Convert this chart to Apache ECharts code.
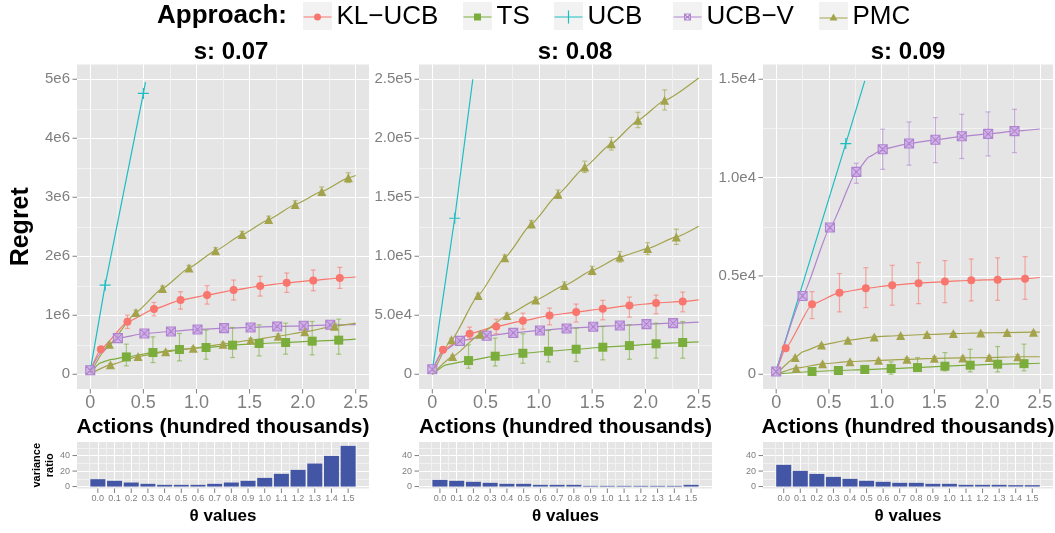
<!DOCTYPE html>
<html>
<head>
<meta charset="utf-8">
<script src="https://cdn.jsdelivr.net/npm/echarts@6/dist/echarts.min.js"></script>
<style>
  html, body { margin: 0; padding: 0; background: #ffffff; }
  #chart { width: 1055px; height: 533px; }
</style>
</head>
<body>
<div id="chart"></div>
<script>
// ---------- data ----------
const approaches = ['KL−UCB', 'TS', 'UCB', 'UCB−V', 'PMC'];
const panelTitles = ['s: 0.07', 's: 0.08', 's: 0.09'];

const actionTicks = [0, 0.5, 1, 1.5, 2, 2.5];
const actionTickLabels = ['0', '0.5', '1.0', '1.5', '2.0', '2.5'];

const regretTicks07 = [0, 1e6, 2e6, 3e6, 4e6, 5e6];
const regretTickLabels07 = ['0', '1e6', '2e6', '3e6', '4e6', '5e6'];
const regretTicks08 = [0, 5e4, 1e5, 1.5e5, 2e5, 2.5e5];
const regretTickLabels08 = ['0', '5.0e4', '1.0e5', '1.5e5', '2.0e5', '2.5e5'];
const regretTicks09 = [0, 5e3, 1e4, 1.5e4];
const regretTickLabels09 = ['0', '0.5e4', '1.0e4', '1.5e4'];

const thetaValues = [0.0, 0.1, 0.2, 0.3, 0.4, 0.5, 0.6, 0.7, 0.8, 0.9, 1.0, 1.1, 1.2, 1.3, 1.4, 1.5];
const thetaTickLabels = ['0.0', '0.1', '0.2', '0.3', '0.4', '0.5', '0.6', '0.7', '0.8', '0.9', '1.0', '1.1', '1.2', '1.3', '1.4', '1.5'];
const ratioTicks = [0, 20, 40];
const ratioTickLabels = ['0', '20', '40'];

// variance ratio per θ value
const varianceRatio07 = [9.5, 7.4, 5.2, 3.5, 2.2, 2.2, 2.2, 3.5, 5.2, 7.4, 11.2, 16.4, 21.5, 29.7, 39.6, 52.5];
const varianceRatio08 = [8.6, 7.4, 6.1, 4.8, 3.5, 3.5, 2.2, 2.2, 2.2, 0.9, 0.9, 0.9, 0.9, 0.9, 0.9, 2.2];
const varianceRatio09 = [28.0, 20.2, 16.3, 12.5, 9.9, 7.4, 6.1, 4.8, 4.8, 3.5, 3.5, 2.2, 2.2, 2.2, 1.8, 1.8];

// regret curves: [actions (hundred thousands), regret]
// marked points: [actions, regret, lower bound, upper bound]

// s = 0.07
const klucbCurve07 = [[0,60000],[0.10,425000],[0.35,889000],[0.60,1104000],[0.85,1257000],[1.10,1342000],[1.35,1427000],[1.60,1495000],[1.85,1551000],[2.10,1591000],[2.35,1631000],[2.50,1648000]];
const klucbMarks07 = [[0.10,425000,400000,450000],[0.35,889000,776000,1002000],[0.60,1104000,991000,1217000],[0.85,1257000,1104000,1399000],[1.10,1342000,1189000,1501000],[1.35,1427000,1257000,1597000],[1.60,1495000,1325000,1659000],[1.85,1551000,1387000,1716000],[2.10,1591000,1416000,1767000],[2.35,1631000,1455000,1812000]];
const tsCurve07 = [[0,10000],[0.09,190000],[0.18,245000],[0.34,294000],[0.59,368000],[0.84,419000],[1.09,453000],[1.34,493000],[1.59,521000],[1.84,538000],[2.09,561000],[2.34,578000],[2.50,595000]];
const tsMarks07 = [[0.34,294000,142000,510000],[0.59,368000,198000,634000],[0.84,419000,227000,691000],[1.09,453000,255000,747000],[1.34,493000,283000,793000],[1.59,521000,311000,838000],[1.84,538000,340000,866000],[2.09,561000,328000,895000],[2.34,578000,340000,934000]];
const ucbCurve07 = [[0,60000],[0.14,1510000],[0.50,4760000],[0.52,4950000]];
const ucbMarks07 = [[0.14,1510000,1510000,1510000],[0.50,4760000,4760000,4760000]];
const ucbvCurve07 = [[0,68000],[0.10,360000],[0.26,612000],[0.51,691000],[0.76,725000],[1.01,759000],[1.26,781000],[1.51,793000],[1.76,810000],[2.01,821000],[2.26,838000],[2.50,840000]];
const ucbvMarks07 = [[0.00,68000,50000,90000],[0.26,612000,580000,645000],[0.51,691000,650000,735000],[0.76,725000,680000,775000],[1.01,759000,705000,815000],[1.26,781000,725000,840000],[1.51,793000,735000,855000],[1.76,810000,745000,880000],[2.01,821000,760000,885000],[2.26,838000,775000,895000]];
const pmcCurve07a = [[0,20000],[0.18,510000],[0.43,1048000],[0.68,1455000],[0.93,1801000],[1.18,2095000],[1.43,2367000],[1.68,2622000],[1.93,2877000],[2.18,3098000],[2.43,3329000],[2.50,3369000]];
const pmcMarks07a = [[0.18,510000,480000,540000],[0.43,1048000,1010000,1085000],[0.68,1455000,1415000,1495000],[0.93,1801000,1760000,1845000],[1.18,2095000,2050000,2145000],[1.43,2367000,2315000,2420000],[1.68,2622000,2565000,2680000],[1.93,2877000,2815000,2940000],[2.18,3098000,3030000,3175000],[2.43,3329000,3250000,3415000]];
const pmcCurve07b = [[0,10000],[0.19,159000],[0.45,300000],[0.71,380000],[0.97,442000],[1.25,510000],[1.51,578000],[1.77,646000],[2.02,719000],[2.30,815000],[2.50,866000]];
const pmcMarks07b = [[0.19,159000,140000,180000],[0.45,300000,280000,320000],[0.71,380000,355000,405000],[0.97,442000,415000,470000],[1.25,510000,480000,540000],[1.51,578000,545000,610000],[1.77,646000,610000,685000],[2.02,719000,675000,765000],[2.30,815000,765000,865000]];

// s = 0.08
const klucbCurve08 = [[0,3000],[0.10,20700],[0.35,34300],[0.60,40500],[0.85,45300],[1.10,49800],[1.35,52700],[1.60,55500],[1.85,58300],[2.10,60300],[2.35,61700],[2.50,63100]];
const klucbMarks08 = [[0.10,20700,19200,22200],[0.35,34300,29200,39900],[0.60,40500,34300,46700],[0.85,45300,38200,51800],[1.10,49800,41900,56100],[1.35,52700,44200,59500],[1.60,55500,46100,62600],[1.85,58300,48400,65400],[2.10,60300,51200,67100],[2.35,61700,52900,69600]];
const tsCurve08 = [[0,0],[0.13,8000],[0.34,11600],[0.59,15300],[0.85,17800],[1.09,19500],[1.35,21200],[1.60,22900],[1.85,24300],[2.10,25800],[2.35,26900],[2.50,27500]];
const tsMarks08 = [[0.34,11600,5100,24900],[0.59,15300,7000,30600],[0.85,17800,9300,34300],[1.09,19500,10500,37100],[1.35,21200,10800,39100],[1.60,22900,12200,40500],[1.85,24300,12700,41900],[2.10,25800,13600,43300],[2.35,26900,13600,44700]];
const ucbCurve08 = [[0,3000],[0.21,132200],[0.38,250000]];
const ucbMarks08 = [[0.21,132200,132200,132200]];
const ucbvCurve08 = [[0,4200],[0.10,19000],[0.26,28300],[0.51,32600],[0.76,35100],[1.01,37100],[1.26,38800],[1.51,40200],[1.76,41300],[2.01,42500],[2.26,43300],[2.50,44200]];
const ucbvMarks08 = [[0.00,4200,3000,5400],[0.26,28300,26800,29800],[0.51,32600,30800,34400],[0.76,35100,33000,37200],[1.01,37100,34800,39400],[1.26,38800,36300,41300],[1.51,40200,37500,42900],[1.76,41300,38400,44200],[2.01,42500,39500,45500],[2.26,43300,40200,46400]];
const pmcCurve08a = [[0,0],[0.18,29200],[0.43,66800],[0.68,98800],[0.93,127400],[1.18,152600],[1.43,175600],[1.68,195400],[1.93,215200],[2.18,232200],[2.50,251000]];
const pmcMarks08a = [[0.18,29200,28000,30400],[0.43,66800,65000,68600],[0.68,98800,96500,101100],[0.93,127400,124500,130300],[1.18,152600,149000,156200],[1.43,175600,171000,180600],[1.68,195400,190000,200700],[1.93,215200,209000,222000],[2.18,232200,224000,241000]];
const pmcCurve08b = [[0,0],[0.19,15000],[0.45,34000],[0.70,49800],[0.97,62900],[1.24,75300],[1.50,88000],[1.76,99400],[2.02,106500],[2.29,116400],[2.50,125400]];
const pmcMarks08b = [[0.19,15000,14000,16000],[0.45,34000,32500,35500],[0.70,49800,47800,51800],[0.97,62900,60500,65300],[1.24,75300,72300,78300],[1.50,88000,84500,91500],[1.76,99400,95000,104000],[2.02,106500,101500,111500],[2.29,116400,110000,123000]];

// s = 0.09
const klucbCurve09 = [[0,100],[0.09,1320],[0.34,3560],[0.60,4150],[0.85,4370],[1.10,4530],[1.35,4630],[1.60,4710],[1.85,4780],[2.10,4810],[2.36,4860],[2.50,4920]];
const klucbMarks09 = [[0.09,1320,1270,1370],[0.34,3560,2830,4200],[0.60,4150,3170,5120],[0.85,4370,3390,5420],[1.10,4530,3510,5540],[1.35,4630,3590,5680],[1.60,4710,3640,5780],[1.85,4780,3730,5860],[2.10,4810,3760,5920],[2.36,4860,3810,5980]];
const tsCurve09 = [[0,0],[0.34,140],[0.59,190],[0.84,240],[1.09,290],[1.34,340],[1.60,410],[1.84,460],[2.10,510],[2.35,540],[2.50,560]];
const tsMarks09 = [[0.34,140,90,190],[0.59,190,80,300],[0.84,240,50,450],[1.09,290,0,630],[1.34,340,170,850],[1.60,410,170,1100],[1.84,460,120,1270],[2.10,510,120,1410],[2.35,540,170,1530]];
const ucbCurve09 = [[0,200],[0.66,11730],[0.84,14920]];
const ucbMarks09 = [[0.66,11730,11730,11730]];
const ucbvCurve09 = [[0,140],[0.25,3980],[0.51,7460],[0.76,10290],[0.88,11050],[1.01,11440],[1.26,11730],[1.51,11920],[1.76,12100],[2.01,12220],[2.26,12360],[2.50,12470]];
const ucbvMarks09 = [[0.00,140,90,190],[0.25,3980,3880,4080],[0.51,7460,7330,7590],[0.76,10290,9710,10730],[1.01,11440,10420,12460],[1.26,11730,10630,12830],[1.51,11920,10760,13050],[1.76,12100,10970,13220],[2.01,12220,11100,13340],[2.26,12360,11270,13470]];
const pmcCurve09a = [[0,0],[0.18,850],[0.25,1140],[0.43,1490],[0.68,1730],[0.93,1900],[1.18,1970],[1.43,2020],[1.68,2070],[1.94,2100],[2.19,2120],[2.44,2140],[2.50,2140]];
const pmcMarks09a = [[0.18,850,800,900],[0.43,1490,1440,1540],[0.68,1730,1680,1780],[0.93,1900,1850,1950],[1.18,1970,1920,2020],[1.43,2020,1970,2070],[1.68,2070,2020,2120],[1.94,2100,2050,2150],[2.19,2120,2070,2170],[2.44,2140,2090,2190]];
const pmcCurve09b = [[0,0],[0.19,310],[0.44,530],[0.70,640],[0.97,710],[1.24,760],[1.50,810],[1.77,830],[2.02,850],[2.29,890],[2.50,890]];
const pmcMarks09b = [[0.19,310,270,350],[0.44,530,480,580],[0.70,640,580,700],[0.97,710,640,780],[1.24,760,680,840],[1.50,810,720,900],[1.77,830,740,920],[2.02,850,760,940],[2.29,890,790,990]];

// ---------- styling ----------
const FONT = '"Liberation Sans", Arial, Helvetica, sans-serif';
const TICK_GREY = '#7F7F7F';
const PANEL_BG = '#E5E5E5';
const MINOR_GRID = '#F2F2F2';

const look = {
  'KL−UCB': { color: '#F8766D', symbol: 'circle', size: 8, fill: '#F8766D', border: 0, smooth: 0.15 },
  'TS':     { color: '#7BAD3C', symbol: 'rect', size: 9, fill: '#7BAD3C', border: 0, smooth: 0.15 },
  'UCB':    { color: '#1CBEC3', symbol: 'path://M0,5H10M5,0V10', size: 11, fill: 'rgba(0,0,0,0)', border: 1.2, smooth: false },
  'UCB−V':  { color: '#AF83CD', symbol: 'path://M0,0H10V10H0ZM0,0L10,10M10,0L0,10', size: 9, fill: 'rgba(205,170,235,0.75)', border: 1.1, smooth: 0.15 },
  'PMC':    { color: '#A2A34A', symbol: 'triangle', size: 9, fill: '#A2A34A', border: 0, smooth: 0.15 }
};

const LINE = 'M0,9.4H28V10.6H0Z';
const legendIcons = {
  'KL−UCB': 'path://' + LINE + 'M10.5,10A3.5,3.5 0 1 1 17.5,10A3.5,3.5 0 1 1 10.5,10Z',
  'TS':     'path://' + LINE + 'M10.5,6.5H17.5V13.5H10.5Z',
  'UCB':    'path://' + LINE + 'M13.4,3.5H14.6V16.5H13.4Z',
  'UCB−V':  'path://' + LINE + 'M10.5,6.5H17.5V13.5H10.5ZM11.5,7.5V12.5H16.5V7.5ZM11,7.7L11.7,7L17,12.3L16.3,13ZM16.3,7L17,7.7L11.7,13L11,12.3Z',
  'PMC':    'path://' + LINE + 'M14,5.5L18,12.5H10Z'
};

// panel geometry
const panelLeft = [77, 419, 763];
const panelWidth = [292, 293, 290];
const MAIN_TOP = 64.5, MAIN_H = 324.5;
const HIST_TOP = 442, HIST_H = 46.5;
const legendKeyLeft = [303, 463, 554, 673, 819];

// ---------- helpers ----------
function near(a, b) { return Math.abs(a - b) < 1e-7 * Math.max(1, Math.abs(b)); }

// one colour per split line: white on major breaks, light on minor breaks
function gridColors(min, max, step, majors) {
  const half = (majors[1] - majors[0]) / 2;
  const minors = [majors[0] - half].concat(majors.map(v => v + half));
  const out = [];
  const n = Math.round((max - min) / step);
  for (let i = 0; i <= n; i++) {
    const v = min + i * step;
    if (majors.some(m => near(v, m))) out.push('#FFFFFF');
    else if (minors.some(m => near(v, m))) out.push(MINOR_GRID);
    else out.push('rgba(0,0,0,0)');
  }
  return out;
}

function labelFor(ticks, labels) {
  return function (v) {
    const i = ticks.findIndex(t => near(v, t));
    return i < 0 ? '' : labels[i];
  };
}

function valueAxis(gridIndex, min, max, step, ticks, labels, fontSize, margin, extra) {
  return Object.assign({
    type: 'value', gridIndex, min, max, interval: step,
    axisLine: { show: false },
    axisTick: { show: false },
    axisLabel: {
      formatter: labelFor(ticks, labels), color: TICK_GREY, fontSize, fontFamily: FONT,
      margin, hideOverlap: false, showMinLabel: true, showMaxLabel: true
    },
    splitLine: { show: true, showMinLine: true, showMaxLine: true,
      lineStyle: { color: gridColors(min, max, step, ticks), width: 1 } },
    minorTick: { show: false }, minorSplitLine: { show: false }
  }, extra || {});
}

// short outward tick marks at the labelled breaks
function tickSeries(idx, xTicks, yTicks) {
  return {
    type: 'custom', xAxisIndex: idx, yAxisIndex: idx, silent: true, clip: false, z: 1,
    encode: { x: 0, y: 1 },
    data: xTicks.map(v => [v, 0, 0]).concat(yTicks.map(v => [0, v, 1])),
    renderItem(params, api) {
      const cs = params.coordSys;
      const p = api.coord([api.value(0), api.value(1)]);
      const style = { stroke: TICK_GREY, lineWidth: 1 };
      if (api.value(2) === 1) {
        return { type: 'line', shape: { x1: cs.x - 4.5, y1: p[1], x2: cs.x, y2: p[1] }, style };
      }
      const b = cs.y + cs.height;
      return { type: 'line', shape: { x1: p[0], y1: b, x2: p[0], y2: b + 4.5 }, style };
    }
  };
}

function errorBarSeries(idx, marks, color) {
  return {
    type: 'custom', xAxisIndex: idx, yAxisIndex: idx, silent: true, z: 3,
    encode: { x: 0, y: 1 },
    data: marks.filter(m => m[3] > m[2]),
    renderItem(params, api) {
      const x = api.value(0);
      const lo = api.coord([x, api.value(2)]);
      const hi = api.coord([x, api.value(3)]);
      const w = 2.5;
      const style = { stroke: color, lineWidth: 1.2, opacity: 0.6 };
      return { type: 'group', children: [
        { type: 'line', shape: { x1: hi[0], y1: hi[1], x2: lo[0], y2: lo[1] }, style },
        { type: 'line', shape: { x1: hi[0] - w, y1: hi[1], x2: hi[0] + w, y2: hi[1] }, style },
        { type: 'line', shape: { x1: lo[0] - w, y1: lo[1], x2: lo[0] + w, y2: lo[1] }, style }
      ] };
    }
  };
}

// ---------- panels ----------
const panels = [
  {
    curves: { 'KL−UCB': [klucbCurve07], 'TS': [tsCurve07], 'UCB': [ucbCurve07], 'UCB−V': [ucbvCurve07], 'PMC': [pmcCurve07a, pmcCurve07b] },
    marks:  { 'KL−UCB': [klucbMarks07], 'TS': [tsMarks07], 'UCB': [ucbMarks07], 'UCB−V': [ucbvMarks07], 'PMC': [pmcMarks07a, pmcMarks07b] },
    ratio: varianceRatio07, yTicks: regretTicks07, yLabels: regretTickLabels07,
    yMin: -250000, yMax: 5250000, yStep: 250000
  },
  {
    curves: { 'KL−UCB': [klucbCurve08], 'TS': [tsCurve08], 'UCB': [ucbCurve08], 'UCB−V': [ucbvCurve08], 'PMC': [pmcCurve08a, pmcCurve08b] },
    marks:  { 'KL−UCB': [klucbMarks08], 'TS': [tsMarks08], 'UCB': [ucbMarks08], 'UCB−V': [ucbvMarks08], 'PMC': [pmcMarks08a, pmcMarks08b] },
    ratio: varianceRatio08, yTicks: regretTicks08, yLabels: regretTickLabels08,
    yMin: -12500, yMax: 262500, yStep: 12500
  },
  {
    curves: { 'KL−UCB': [klucbCurve09], 'TS': [tsCurve09], 'UCB': [ucbCurve09], 'UCB−V': [ucbvCurve09], 'PMC': [pmcCurve09a, pmcCurve09b] },
    marks:  { 'KL−UCB': [klucbMarks09], 'TS': [tsMarks09], 'UCB': [ucbMarks09], 'UCB−V': [ucbvMarks09], 'PMC': [pmcMarks09a, pmcMarks09b] },
    ratio: varianceRatio09, yTicks: regretTicks09, yLabels: regretTickLabels09,
    yMin: -750, yMax: 15750, yStep: 250
  }
];

const grid = [], xAxis = [], yAxis = [], series = [];

panels.forEach((p, i) => {
  grid.push({ left: panelLeft[i], top: MAIN_TOP, width: panelWidth[i], height: MAIN_H,
    show: true, backgroundColor: PANEL_BG, borderWidth: 0, containLabel: false, outerBoundsMode: 'none' });
  xAxis.push(valueAxis(i, -0.125, 2.625, 0.125, actionTicks, actionTickLabels, 18, 5, {
    name: 'Actions (hundred thousands)', nameLocation: 'middle', nameGap: 27,
    nameTextStyle: { fontSize: 21, fontWeight: 'bold', color: '#000', fontFamily: FONT }
  }));
  yAxis.push(valueAxis(i, p.yMin, p.yMax, p.yStep, p.yTicks, p.yLabels, 15, 7, i === 0 ? {
    name: 'Regret', nameLocation: 'middle', nameGap: 43,
    nameTextStyle: { fontSize: 25, fontWeight: 'bold', color: '#000', fontFamily: FONT }
  } : {}));

  // markers first so the legend picks them up
  approaches.forEach(a => {
    const lk = look[a];
    p.marks[a].forEach(m => {
      series.push({
        type: 'scatter', name: a, xAxisIndex: i, yAxisIndex: i, silent: true, z: 5,
        data: m.map(r => [r[0], r[1]]),
        symbol: lk.symbol, symbolSize: lk.size,
        itemStyle: { color: lk.fill, borderColor: lk.color, borderWidth: lk.border, opacity: 1 }
      });
    });
  });
  approaches.forEach(a => {
    const lk = look[a];
    p.curves[a].forEach(c => {
      series.push({
        type: 'line', name: a, xAxisIndex: i, yAxisIndex: i, silent: true, z: 2,
        data: c, showSymbol: false, symbol: 'none', smooth: lk.smooth, smoothMonotone: 'x',
        lineStyle: { color: lk.color, width: 1.2 }, itemStyle: { color: lk.color }
      });
    });
    p.marks[a].forEach(m => series.push(errorBarSeries(i, m, lk.color)));
  });
  series.push(tickSeries(i, actionTicks, p.yTicks));
});

panels.forEach((p, i) => {
  const k = 3 + i;
  grid.push({ left: panelLeft[i], top: HIST_TOP, width: panelWidth[i], height: HIST_H,
    show: true, backgroundColor: PANEL_BG, borderWidth: 0, containLabel: false, outerBoundsMode: 'none' });
  xAxis.push(valueAxis(k, -0.125, 1.625, 0.025, thetaValues, thetaTickLabels, 9, 6, {
    name: 'θ values', nameLocation: 'middle', nameGap: 19,
    nameTextStyle: { fontSize: 17, fontWeight: 'bold', color: '#000', fontFamily: FONT }
  }));
  yAxis.push(valueAxis(k, -2.5, 57.5, 2.5, ratioTicks, ratioTickLabels, 9, 7, i === 0 ? {
    name: 'variance\nratio', nameLocation: 'middle', nameGap: 20,
    nameTextStyle: { fontSize: 11, fontWeight: 'bold', color: '#000', fontFamily: FONT, lineHeight: 13 }
  } : {}));
  series.push({
    type: 'bar', xAxisIndex: k, yAxisIndex: k, silent: true, z: 2,
    data: thetaValues.map((t, j) => [t, p.ratio[j]]),
    barWidth: 15, itemStyle: { color: '#4355A5' }
  });
  series.push(tickSeries(k, thetaValues, ratioTicks));
});

const legend = approaches.map((a, i) => ({
  data: [{ name: a, icon: legendIcons[a], itemStyle: { color: look[a].color, borderWidth: 0, opacity: 1 } }],
  left: legendKeyLeft[i] + 0.5, top: 4, padding: 0, itemWidth: 28, itemHeight: 20,
  selectedMode: false, textStyle: { fontSize: 26, fontFamily: FONT, color: '#000' }
}));

const panelCentres = [231, 575, 908];
const graphic = legendKeyLeft.map(x => ({
  type: 'rect', x: x, y: 2, shape: { width: 29, height: 28 }, style: { fill: '#F2F2F2' }, z: 0, silent: true
})).concat([
  { type: 'text', x: 157, y: 16, silent: true,
    style: { text: 'Approach:', font: 'bold 26px ' + FONT, fill: '#000', align: 'left', verticalAlign: 'middle' } }
]).concat(panelTitles.map((t, i) => ({
  type: 'text', x: panelCentres[i], y: 52, silent: true,
  style: { text: t, font: 'bold 24px ' + FONT, fill: '#000', align: 'center', verticalAlign: 'middle' }
})));

const chart = echarts.init(document.getElementById('chart'), null, { renderer: 'canvas' });
chart.setOption({
  animation: false,
  backgroundColor: '#ffffff',
  textStyle: { fontFamily: FONT },
  grid, xAxis, yAxis, series, legend, graphic
});
</script>
